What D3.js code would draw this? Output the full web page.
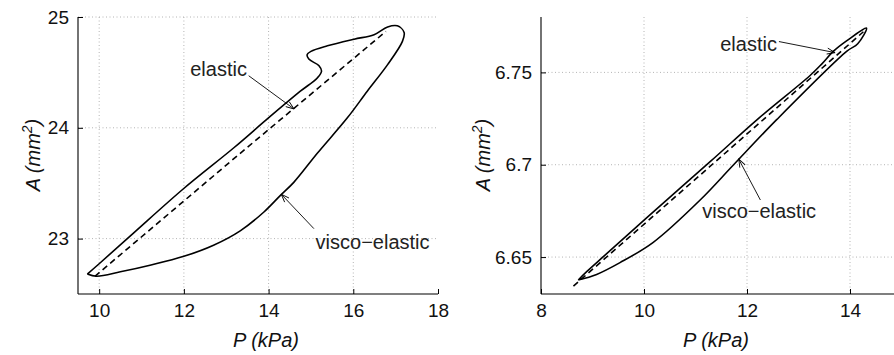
<!DOCTYPE html>
<html>
<head>
<meta charset="utf-8">
<script src="https://cdn.jsdelivr.net/npm/d3@7"></script>
<style>
  html, body { margin: 0; padding: 0; background: #fff; }
  svg { display: block; font-family: "Liberation Sans", Arial, Helvetica, sans-serif; }
</style>
</head>
<body>
<div id="chart"></div>
<script>
// ---- data ----
// left panel: P (kPa) vs A (mm^2)
const leftViscoP = [9.72, 10.02, 10.81, 11.99, 13.18, 13.97, 14.75, 15.15, 15.25, 15.19, 14.95, 14.91, 15.0, 15.39, 16.02, 16.49, 16.81, 17.04, 17.2, 17.16, 16.81, 16.33, 15.86, 15.15, 14.6, 14.28, 13.89, 13.33, 12.7, 12.0, 11.2, 10.5, 9.94, 9.72];
const leftViscoA = [22.68, 22.78, 23.05, 23.45, 23.82, 24.08, 24.33, 24.45, 24.51, 24.56, 24.62, 24.66, 24.69, 24.74, 24.8, 24.84, 24.91, 24.92, 24.86, 24.78, 24.57, 24.33, 24.09, 23.77, 23.51, 23.39, 23.24, 23.07, 22.94, 22.84, 22.76, 22.70, 22.66, 22.68];
const leftElasticP = [9.9, 13.3, 16.77];
const leftElasticA = [22.66, 23.76, 24.87];

// right panel
const rightViscoP = [8.724, 8.887, 9.243, 10.05, 11.29, 12.22, 13.22, 13.45, 13.68, 13.94, 14.32, 14.15, 13.94, 12.576, 11.74, 11.09, 10.18, 9.534, 9.08, 8.724];
const rightViscoA = [6.6376, 6.6421, 6.651, 6.6712, 6.7018, 6.725, 6.7482, 6.7545, 6.7615, 6.7672, 6.774, 6.7655, 6.7615, 6.7244, 6.70, 6.6809, 6.6580, 6.6470, 6.6406, 6.6376];
const rightElasticP = [8.63, 11.45, 14.26];
const rightElasticA = [6.6343, 6.7032, 6.772];

// axes
const leftXDomain = [9.5, 18], leftYDomain = [22.5, 25];
const leftXTicks = [10, 12, 14, 16, 18], leftYTicks = [23, 24, 25];
const rightXDomain = [8, 15], rightYDomain = [6.63, 6.78];
const rightXTicks = [8, 10, 12, 14], rightYTicks = [6.65, 6.7, 6.75];
const rightYLabels = ["6.65", "6.7", "6.75"];

// annotations: [text x, text y, arrow from x, y, arrow to x, y] in data units
const leftElasticNote = [12.15, 24.47, 13.53, 24.47, 14.6, 24.17];
const leftViscoNote = [15.11, 22.91, 15.07, 23.09, 14.3, 23.4];
const rightElasticNote = [11.48, 6.7618, 12.62, 6.7667, 13.71, 6.7607];
const rightViscoNote = [11.13, 6.671, 12.26, 6.6809, 11.84, 6.703];

const W = 894, H = 355;
const svg = d3.select("#chart").append("svg")
  .attr("width", W).attr("height", H);

svg.append("defs").append("marker")
  .attr("id", "arr")
  .attr("viewBox", "-10 -5 12 10")
  .attr("refX", 0).attr("refY", 0)
  .attr("markerWidth", 12).attr("markerHeight", 10)
  .attr("markerUnits", "userSpaceOnUse")
  .attr("orient", "auto")
  .append("path")
  .attr("d", "M-8,-3L0,0L-8,3")
  .attr("fill", "none")
  .attr("stroke", "#000")
  .attr("stroke-width", 0.9);

function panel(cfg) {
  const x = d3.scaleLinear().domain(cfg.xDomain).range([cfg.left, cfg.right]);
  const y = d3.scaleLinear().domain(cfg.yDomain).range([cfg.bottom, cfg.top]);
  const g = svg.append("g");

  // grid
  g.selectAll(".vgrid").data(cfg.xGrid).join("line")
    .attr("x1", d => x(d)).attr("x2", d => x(d))
    .attr("y1", cfg.top).attr("y2", cfg.bottom)
    .attr("stroke", "#b4b4b4").attr("stroke-width", 1)
    .attr("stroke-dasharray", "1,2.5");
  g.selectAll(".hgrid").data(cfg.yTicks).join("line")
    .attr("x1", cfg.left).attr("x2", cfg.right)
    .attr("y1", d => y(d)).attr("y2", d => y(d))
    .attr("stroke", "#b4b4b4").attr("stroke-width", 1)
    .attr("stroke-dasharray", "1,2.5");

  // axes, inward ticks like matlab
  const xAxis = g.append("g").attr("transform", `translate(0,${cfg.bottom})`)
    .call(d3.axisBottom(x).tickValues(cfg.xTicks).tickSizeInner(-5).tickSizeOuter(0).tickPadding(10)
      .tickFormat(d => String(d)));
  const yAxis = g.append("g").attr("transform", `translate(${cfg.left},0)`)
    .call(d3.axisLeft(y).tickValues(cfg.yTicks).tickSizeInner(-5).tickSizeOuter(0).tickPadding(9)
      .tickFormat((d, i) => cfg.yLabels ? cfg.yLabels[i] : d));
  [xAxis, yAxis].forEach(a => {
    a.select(".domain").attr("stroke", "#000").attr("stroke-width", 1.1);
    a.selectAll(".tick line").attr("stroke", "#000");
    a.selectAll(".tick text").attr("fill", "#111")
      .style("font-size", "19px").style("font-family", "Liberation Sans, Arial, sans-serif");
  });
  // y axis line reaches the top of the box
  yAxis.select(".domain").attr("d", `M0,${cfg.bottom}V${cfg.top}`);
  xAxis.select(".domain").attr("d", `M${cfg.left},0H${cfg.right}`);

  // curves
  const line = d3.line().x(d => x(d[0])).y(d => y(d[1])).curve(d3.curveCatmullRom.alpha(0.5));
  g.append("path")
    .datum(d3.zip(cfg.viscoP, cfg.viscoA))
    .attr("d", line)
    .attr("fill", "none").attr("stroke", "#000").attr("stroke-width", 1.6)
    .attr("stroke-linejoin", "round");
  g.append("path")
    .datum(d3.zip(cfg.elasticP, cfg.elasticA))
    .attr("d", d3.line().x(d => x(d[0])).y(d => y(d[1])))
    .attr("fill", "none").attr("stroke", "#000").attr("stroke-width", 1.6)
    .attr("stroke-dasharray", "6,4");

  // annotations
  cfg.notes.forEach(([txt, n]) => {
    g.append("text")
      .attr("x", x(n[0])).attr("y", y(n[1]))
      .style("font-size", "20px").attr("fill", "#222")
      .text(txt);
    g.append("line")
      .attr("x1", x(n[2])).attr("y1", y(n[3]))
      .attr("x2", x(n[4])).attr("y2", y(n[5]))
      .attr("stroke", "#000").attr("stroke-width", 0.9)
      .attr("marker-end", "url(#arr)");
  });

  // axis labels
  g.append("text")
    .attr("x", cfg.xLabelX).attr("y", 347)
    .attr("text-anchor", "middle")
    .style("font-size", "20px").style("font-style", "italic").attr("fill", "#111")
    .text("P (kPa)");
  const yl = g.append("text")
    .attr("transform", `translate(${cfg.yLabelX},155) rotate(-90)`)
    .attr("text-anchor", "middle")
    .style("font-size", "20px").style("font-style", "italic").attr("fill", "#111");
  yl.append("tspan").text("A (mm");
  yl.append("tspan").attr("dy", -8).style("font-size", "14px").text("2");
  yl.append("tspan").attr("dy", 8).text(")");
}

panel({
  left: 78, right: 438, top: 17, bottom: 294,
  xDomain: leftXDomain, yDomain: leftYDomain,
  xTicks: leftXTicks, xGrid: [10, 12, 14, 16], yTicks: leftYTicks,
  viscoP: leftViscoP, viscoA: leftViscoA,
  elasticP: leftElasticP, elasticA: leftElasticA,
  notes: [["elastic", leftElasticNote], ["visco\u2212elastic", leftViscoNote]],
  xLabelX: 266, yLabelX: 40
});

panel({
  left: 541, right: 901.5, top: 17, bottom: 294,
  xDomain: rightXDomain, yDomain: rightYDomain,
  xTicks: rightXTicks, xGrid: [10, 12, 14], yTicks: rightYTicks, yLabels: rightYLabels,
  viscoP: rightViscoP, viscoA: rightViscoA,
  elasticP: rightElasticP, elasticA: rightElasticA,
  notes: [["elastic", rightElasticNote], ["visco\u2212elastic", rightViscoNote]],
  xLabelX: 716, yLabelX: 490
});
</script>
</body>
</html>
